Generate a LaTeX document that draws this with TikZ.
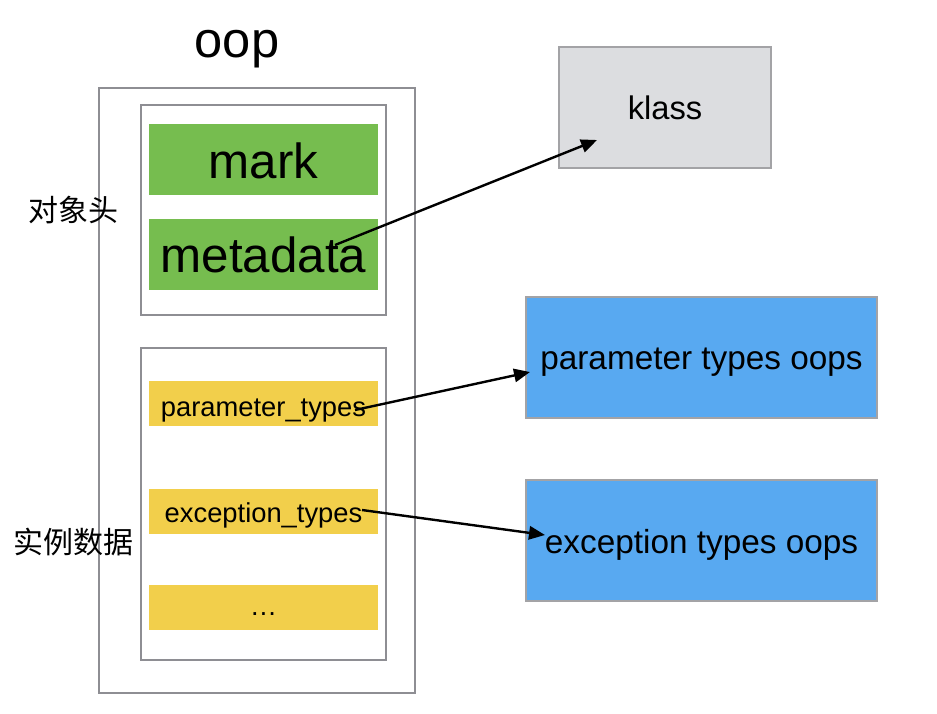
\documentclass[tikz,border=0pt]{standalone}
\usepackage{fontspec}
\setmainfont{Liberation Sans}
\newfontfamily\cjk{Noto Sans CJK SC}
\usetikzlibrary{arrows.meta}
\definecolor{gframe}{HTML}{8E8E93}
\definecolor{ggreen}{HTML}{76BD4F}
\definecolor{gyellow}{HTML}{F2CF4B}
\definecolor{gblue}{HTML}{58A9F1}
\definecolor{gklass}{HTML}{DCDDE0}
\definecolor{gborder}{HTML}{A3A3A6}
\tikzset{
  frame/.style={draw=gframe, line width=2.2pt, inner sep=0pt},
  greenbox/.style={fill=ggreen, draw=none, inner sep=0pt, minimum width=229*0.75pt, minimum height=71*0.75pt},
  yellowbox/.style={fill=gyellow, draw=none, inner sep=0pt, minimum width=229*0.75pt, minimum height=45*0.75pt},
  targetbox/.style={draw=gborder, line width=1.8pt, inner sep=0pt, minimum height=121*0.75pt},
  txt/.style={anchor=base, inner sep=0pt},
  conn/.style={line width=1.8pt, -{Triangle[length=12pt,width=10pt]}},
}
\begin{document}
\begin{tikzpicture}[x=0.75pt,y=-0.75pt]
\useasboundingbox (0,0) rectangle (937,713);
% outer box
\node[frame, minimum width=316*0.75pt, minimum height=605*0.75pt] (outer) at (257,390.5) {};
\node[txt, font=\fontsize{38}{40}\selectfont] (oop) at (237,58) {oop};
% header box
\node[frame, minimum width=245*0.75pt, minimum height=210*0.75pt] (header) at (263.5,210) {};
\node[greenbox] (mark) at (263.5,159.5) {};
\node[txt, font=\fontsize{37}{39}\selectfont] (markt) at (263.5,178) {mark};
\node[greenbox] (metadata) at (263.5,254.5) {};
\node[txt, font=\fontsize{37}{39}\selectfont] (metadatat) at (263.5,272) {metadata};
% instance box
\node[frame, minimum width=245*0.75pt, minimum height=312*0.75pt] (inst) at (263.5,504) {};
\node[yellowbox] (ptypes) at (263.5,403.5) {};
\node[txt, font=\fontsize{20.5}{22}\selectfont] (ptypest) at (263.5,416) {parameter\_types};
\node[yellowbox] (etypes) at (263.5,511.5) {};
\node[txt, font=\fontsize{20.5}{22}\selectfont] (etypest) at (263.5,522) {exception\_types};
\node[yellowbox] (dots) at (263.5,607.5) {};
\node[txt, font=\fontsize{20.5}{22}\selectfont] (dotst) at (263.5,615) {…};
% labels
\node[txt, font=\cjk\fontsize{22.5}{24}\selectfont] (hdrlabel) at (73,221) {对象头};
\node[txt, font=\cjk\fontsize{22.5}{24}\selectfont] (instlabel) at (73,553) {实例数据};
% targets
\node[targetbox, fill=gklass, minimum width=212*0.75pt] (klass) at (665,107.5) {};
\node[txt, font=\fontsize{24.5}{26}\selectfont] (klasst) at (665,120) {klass};
\node[targetbox, fill=gblue, minimum width=351*0.75pt] (poops) at (701.5,357.5) {};
\node[txt, font=\fontsize{25}{27}\selectfont] (poopst) at (701.5,369) {parameter types oops};
\node[targetbox, fill=gblue, minimum width=351*0.75pt] (eoops) at (701.5,540.5) {};
\node[txt, font=\fontsize{25}{27}\selectfont] (eoopst) at (701.5,553) {exception types oops};
% arrows
\coordinate (a1s) at (335,245);
\coordinate (a1e) at (597,140);
\coordinate (a2s) at (355,410);
\coordinate (a2e) at (530,372);
\coordinate (a3s) at (362,510);
\coordinate (a3e) at (545,535);
\draw[conn] (a1s) -- (a1e);
\draw[conn] (a2s) -- (a2e);
\draw[conn] (a3s) -- (a3e);
\end{tikzpicture}
\end{document}
